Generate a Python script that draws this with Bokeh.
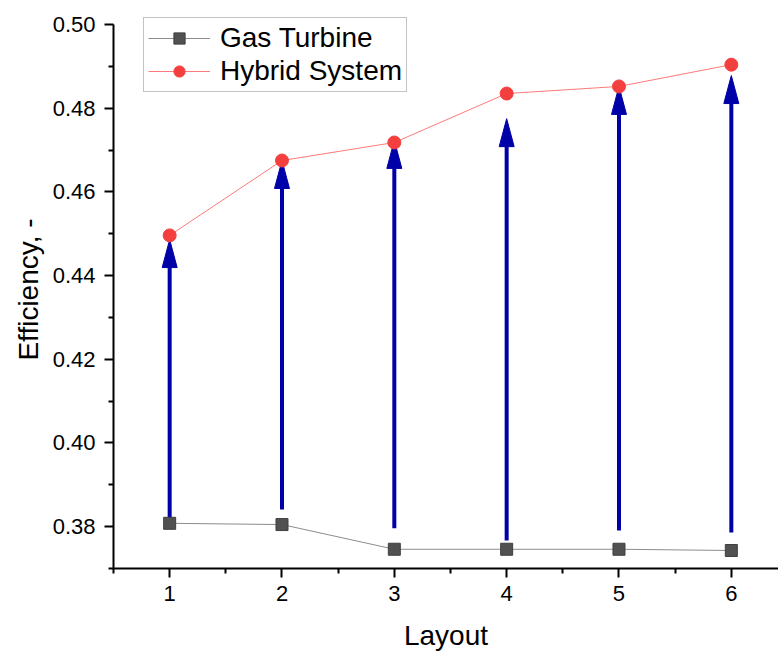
from bokeh.plotting import figure
from bokeh.models import Range1d, FixedTicker, Legend, LegendItem, ColumnDataSource, CustomJSTickFormatter
from bokeh.embed import file_html
from bokeh.resources import INLINE

# ---- data ----
layout = [1, 2, 3, 4, 5, 6]
gas_turbine = [0.3808, 0.3805, 0.3746, 0.3746, 0.3746, 0.3743]
hybrid_system = [0.4496, 0.4675, 0.4718, 0.4835, 0.4852, 0.4904]
arrow_start = [0.3820, 0.3841, 0.3796, 0.3767, 0.3791, 0.3786]
arrow_end = [0.4486, 0.4675, 0.4723, 0.4775, 0.4852, 0.4878]
x_ticks = [1, 2, 3, 4, 5, 6]
y_ticks = [0.38, 0.40, 0.42, 0.44, 0.46, 0.48, 0.50]

FONT = "Liberation Sans"
W, H = 778, 653
BL, BR, BT, BB = 113, 0, 10, 85
AXIS_TOP_PX = 24          # where the 0.50 end of the y axis sits
X0, X1 = 0.5, 6.42
Y0, YTOP = 0.37, 0.50
frame_w = W - BL - BR
axis_h = H - BB - AXIS_TOP_PX
px_y = (YTOP - Y0) / axis_h
Y1 = YTOP + (AXIS_TOP_PX - BT) * px_y
px_x = (X1 - X0) / frame_w

p = figure(width=W, height=H, x_range=Range1d(X0, X1), y_range=Range1d(Y0, Y1),
           output_backend="svg", toolbar_location=None,
           min_border_left=BL, min_border_right=BR, min_border_top=BT, min_border_bottom=BB)
p.outline_line_color = None
p.xgrid.visible = False
p.ygrid.visible = False
p.background_fill_color = "white"
p.border_fill_color = "white"

# axes
p.xaxis.ticker = FixedTicker(ticks=x_ticks, minor_ticks=[v + 0.5 for v in [0] + x_ticks])
p.yaxis.ticker = FixedTicker(ticks=y_ticks, minor_ticks=[round(v - 0.01, 2) for v in y_ticks])
p.yaxis.formatter = CustomJSTickFormatter(code="return tick.toFixed(2);")
p.yaxis.bounds = (Y0, YTOP)
for ax in (p.xaxis[0], p.yaxis[0]):
    ax.axis_line_width = 2
    ax.axis_line_color = "black"
    ax.major_tick_line_width = 2
    ax.minor_tick_line_width = 2
    ax.major_tick_line_color = "black"
    ax.minor_tick_line_color = "black"
    ax.major_tick_in = 0
    ax.major_tick_out = 9
    ax.minor_tick_in = 0
    ax.minor_tick_out = 5
    ax.major_label_text_font = FONT
    ax.major_label_text_font_size = "22px"
    ax.major_label_text_color = "black"
    ax.axis_label_text_font = FONT
    ax.axis_label_text_font_size = "28px"
    ax.axis_label_text_font_style = "normal"
    ax.axis_label_text_color = "black"
p.xaxis.axis_label = "Layout"
p.yaxis.axis_label = "Efficiency, -"
p.xaxis.major_label_standoff = 8
p.yaxis.major_label_standoff = 9
p.xaxis.axis_label_standoff = 16
p.yaxis.axis_label_standoff = 6

# arrows (shaft + filled head), derived from the arrow arrays
ARROW = "#0000A8"
head_len = 28 * px_y
head_half = 7.5 * px_x
p.segment(x0=layout, y0=arrow_start, x1=layout, y1=[e - head_len * 0.9 for e in arrow_end],
          line_color=ARROW, line_width=4)
p.patches(xs=[[x - head_half, x, x + head_half] for x in layout],
          ys=[[e - head_len, e, e - head_len] for e in arrow_end],
          fill_color=ARROW, line_color=ARROW, line_width=1)

# series
src = ColumnDataSource(dict(x=layout, gt=gas_turbine, hy=hybrid_system))
gl = p.line("x", "gt", source=src, line_color="#8c8c8c", line_width=1)
gm = p.scatter("x", "gt", source=src, marker="square", size=12,
               fill_color="#515151", line_color="#3f3f3f", line_width=1)
hl = p.line("x", "hy", source=src, line_color="#ff7a7a", line_width=1)
hm = p.scatter("x", "hy", source=src, marker="circle", size=13,
               fill_color="#f43f3f", line_color="#f43f3f", line_width=1)

legend = Legend(items=[LegendItem(label="Gas Turbine", renderers=[gl, gm]),
                       LegendItem(label="Hybrid System", renderers=[hl, hm])],
                location=(30, 476), orientation="vertical")
legend.label_text_font = FONT
legend.label_text_font_size = "28px"
legend.label_text_color = "black"
legend.glyph_width = 62
legend.glyph_height = 28
legend.label_height = 28
legend.label_standoff = 10
legend.spacing = 1
legend.padding = 4
legend.margin = 0
legend.border_line_color = "#888888"
legend.border_line_width = 1
legend.background_fill_color = "white"
legend.background_fill_alpha = 1
p.add_layout(legend, "center")

open("out.html", "w").write(file_html(p, INLINE))
